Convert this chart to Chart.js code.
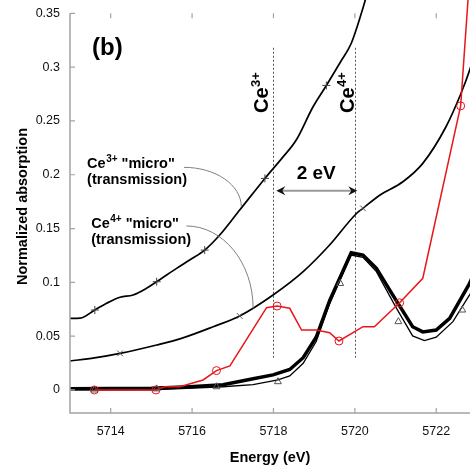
<!DOCTYPE html>
<html>
<head>
<meta charset="utf-8">
<script src="https://cdn.jsdelivr.net/npm/chart.js@4.4.1/dist/chart.umd.min.js"></script>
<style>
  html, body { margin: 0; padding: 0; background: #fff; }
  #wrap { width: 470px; height: 469px; }
</style>
</head>
<body>
<div id="wrap"><canvas id="xanes"></canvas></div>
<script>
/* global Chart */
const FONT = "'Liberation Sans', Arial, sans-serif"

// Ce3+ "micro" (transmission) spectrum, + markers at ce3Marks
const ce3Energy = [5713.0, 5713.25, 5713.61, 5713.9, 5714.23, 5714.55, 5714.88, 5715.13, 5715.62, 5715.94, 5716.31,
  5716.68, 5717.17, 5717.79, 5718.2, 5718.56, 5718.97, 5719.3, 5719.65, 5719.91, 5720.16, 5720.3]
const ce3Abs = [0.0665, 0.0668, 0.0743, 0.0806, 0.0862, 0.0883, 0.0945, 0.1006, 0.113, 0.1208, 0.130,
  0.144, 0.1672, 0.1966, 0.215, 0.2323, 0.263, 0.283, 0.305, 0.322, 0.350, 0.368]
const ce3Marks = [2, 7, 10, 13, 17]

// Ce4+ "micro" (transmission) spectrum, x markers at ce4Marks
const ce4Energy = [5713.0, 5713.6, 5714.23, 5715.13, 5715.74, 5716.52, 5717.17, 5717.99, 5718.73, 5719.38, 5720.04,
  5720.2, 5720.61, 5721.18, 5721.67, 5722.24, 5722.61, 5722.82, 5723.0]
const ce4Abs = [0.0269, 0.0298, 0.034, 0.0418, 0.048, 0.0588, 0.0688, 0.0883, 0.110, 0.1347, 0.164,
  0.1688, 0.181, 0.1935, 0.2106, 0.2446, 0.2757, 0.297, 0.32]
const ce4Marks = [2, 6, 11]

// red spectrum with open circles
const redEnergy = [5713.6, 5715.11, 5715.33, 5715.7, 5716.27, 5716.6, 5716.93, 5717.83, 5718.09, 5718.4, 5718.69,
  5719.05, 5719.38, 5719.61, 5720.2, 5720.48, 5721.1, 5721.67, 5722.6, 5722.78, 5722.9]
const redAbs = [0, 0, 0.003, 0.003, 0.0093, 0.018, 0.0223, 0.0765, 0.078, 0.0759, 0.0557,
  0.0557, 0.0532, 0.0455, 0.0588, 0.0588, 0.081, 0.1038, 0.264, 0.362, 0.428]
const redMarks = [0, 1, 5, 8, 13, 16, 18]

// pair of edge spectra (thick + thin)
const thickEnergy = [5713.0, 5715.0, 5715.94, 5716.76, 5717.5, 5717.99, 5718.4, 5718.73, 5719.05, 5719.38, 5719.91,
  5720.2, 5720.53, 5720.93, 5721.42, 5721.67, 5722.0, 5722.33, 5722.82, 5723.0]
const thickAbs = [0.0012, 0.0015, 0.003, 0.0048, 0.0105, 0.014, 0.019, 0.030, 0.049, 0.083, 0.1276,
  0.1254, 0.113, 0.0883, 0.0588, 0.054, 0.0557, 0.0666, 0.099, 0.115]
const thinEnergy = [5713.0, 5715.0, 5716.76, 5717.5, 5718.11, 5718.4, 5718.73, 5719.05, 5719.38, 5719.91,
  5720.2, 5720.53, 5721.0, 5721.42, 5721.71, 5722.0, 5722.41, 5722.82, 5723.0]
const thinAbs = [0.0, 0.0, 0.003, 0.005, 0.0093, 0.013, 0.0248, 0.045, 0.080, 0.1254,
  0.1233, 0.110, 0.0774, 0.0502, 0.0458, 0.049, 0.0635, 0.0883, 0.10]

// open triangles
const triEnergy = [5713.6, 5715.13, 5716.6, 5718.11, 5719.64, 5721.07, 5722.64]
const triAbs = [0, 0.001, 0.003, 0.0077, 0.099, 0.0635, 0.0743]

const xTicks = [5714, 5716, 5718, 5720, 5722]
const yTicks = [0, 0.05, 0.1, 0.15, 0.2, 0.25, 0.3, 0.35]
const edgeLines = [5718, 5720]

const zip = (xs, ys) => xs.map((x, i) => ({ x, y: ys[i] }))
const markAt = (marks, r) => (ctx) => (marks.includes(ctx.dataIndex) ? r : 0)

const lineSet = (label, data, colour, width, extra) => ({
  label,
  data,
  borderColor: colour,
  borderWidth: width,
  pointRadius: 0,
  fill: false,
  tension: 0,
  ...extra,
})

// fixed axis boxes, no extra room for overhanging tick labels
const fixBox = (size) => (s) => {
  if (s.isHorizontal()) s.height = size
  else s.width = size
  s.paddingTop = 0
  s.paddingBottom = 0
  s.paddingLeft = 0
  s.paddingRight = 0
}

function drawSup(ctx, x, y, base, sup, size, supSize, tail) {
  ctx.font = `bold ${size}px ${FONT}`
  ctx.fillText(base, x, y)
  let w = ctx.measureText(base).width
  ctx.font = `bold ${supSize}px ${FONT}`
  ctx.fillText(sup, x + w + 0.5, y - size * 0.4)
  w += ctx.measureText(sup).width + 0.5
  if (tail) {
    ctx.font = `bold ${size}px ${FONT}`
    ctx.fillText(tail, x + w, y)
  }
}

function arrowHead(ctx, tx, ty, dir) {
  const len = 9
  const half = 4.5
  ctx.beginPath()
  ctx.moveTo(tx, ty)
  ctx.lineTo(tx - dir * len, ty - half)
  ctx.lineTo(tx - dir * (len - 3), ty)
  ctx.lineTo(tx - dir * len, ty + half)
  ctx.closePath()
  ctx.fill()
}

function leader(ctx, s, e) {
  const k = 0.5523
  ctx.beginPath()
  ctx.moveTo(s[0], s[1])
  ctx.bezierCurveTo(s[0] + k * (e[0] - s[0]), s[1], e[0], e[1] - k * (e[1] - s[1]), e[0], e[1])
  ctx.stroke()
}

const decor = {
  id: 'decor',
  beforeDatasetsDraw(chart) {
    const { ctx, scales: { x, y } } = chart
    ctx.save()
    ctx.strokeStyle = '#555'
    ctx.lineWidth = 1
    ctx.setLineDash([2, 2])
    edgeLines.forEach((e) => {
      const px = Math.round(x.getPixelForValue(e)) + 0.5
      ctx.beginPath()
      ctx.moveTo(px, y.getPixelForValue(0.318))
      ctx.lineTo(px, y.getPixelForValue(0.028))
      ctx.stroke()
    })
    ctx.restore()
  },
  afterDatasetsDraw(chart) {
    const { ctx, chartArea, scales: { x, y } } = chart
    const P = (e, v) => [x.getPixelForValue(e), y.getPixelForValue(v)]
    ctx.save()

    // axes with inward ticks
    const left = chartArea.left
    const bottom = chartArea.bottom
    const top = y.getPixelForValue(0.35)
    ctx.strokeStyle = '#a3a3a3'
    ctx.lineWidth = 1.5
    ctx.beginPath()
    ctx.moveTo(left, top)
    ctx.lineTo(left, bottom)
    ctx.lineTo(chartArea.right, bottom)
    ctx.stroke()
    ctx.lineWidth = 1.2
    ctx.beginPath()
    yTicks.forEach((v) => {
      const py = y.getPixelForValue(v)
      ctx.moveTo(left, py)
      ctx.lineTo(left + 5, py)
    })
    xTicks.forEach((e) => {
      const px = x.getPixelForValue(e)
      ctx.moveTo(px, bottom)
      ctx.lineTo(px, bottom - 5)
      ctx.moveTo(px, top)
      ctx.lineTo(px, top + 5)
    })
    ctx.stroke()

    ctx.fillStyle = '#000'
    ctx.textBaseline = 'alphabetic'
    ctx.textAlign = 'left'

    // panel letter
    ctx.font = `bold 24px ${FONT}`
    let p = P(5713.54, 0.311)
    ctx.fillText('(b)', p[0], p[1])

    // edge labels, rotated
    ;[[5717.86, 'Ce', '3+'], [5719.97, 'Ce', '4+']].forEach(([e, base, sup]) => {
      const q = P(e, 0.2574)
      ctx.save()
      ctx.translate(q[0], q[1])
      ctx.rotate(-Math.PI / 2)
      drawSup(ctx, 0, 0, base, sup, 20, 13)
      ctx.restore()
    })

    // 2 eV separation
    ctx.font = `bold 19px ${FONT}`
    ctx.textAlign = 'center'
    p = P(5719.05, 0.1965)
    ctx.fillText('2 eV', p[0], p[1])
    const a = P(5718.07, 0.1852)
    const b = P(5720.06, 0.1852)
    ctx.strokeStyle = '#9a9a9a'
    ctx.lineWidth = 2
    ctx.beginPath()
    ctx.moveTo(a[0] + 5, a[1])
    ctx.lineTo(b[0] - 5, b[1])
    ctx.stroke()
    ctx.fillStyle = '#111'
    arrowHead(ctx, a[0], a[1], -1)
    arrowHead(ctx, b[0], b[1], 1)

    // curve labels
    ctx.fillStyle = '#000'
    ctx.textAlign = 'left'
    p = P(5713.42, 0.2063)
    drawSup(ctx, p[0], p[1], 'Ce', '3+', 14.5, 10, ' "micro"')
    p = P(5713.42, 0.1914)
    ctx.font = `bold 14.5px ${FONT}`
    ctx.fillText('(transmission)', p[0], p[1])
    p = P(5713.52, 0.1505)
    drawSup(ctx, p[0], p[1], 'Ce', '4+', 14.5, 10, ' "micro"')
    p = P(5713.52, 0.1357)
    ctx.font = `bold 14.5px ${FONT}`
    ctx.fillText('(transmission)', p[0], p[1])

    // leader arcs
    ctx.strokeStyle = '#808080'
    ctx.lineWidth = 1
    leader(ctx, P(5715.8, 0.2069), P(5717.21, 0.1703))
    leader(ctx, P(5715.86, 0.1524), P(5717.5, 0.0759))

    ctx.restore()
  },
}

const tickFont = { family: FONT, size: 12.5 }
const titleFont = { family: FONT, size: 14.5, weight: 'bold' }

new Chart(document.getElementById('xanes'), {
  type: 'line',
  data: {
    datasets: [
      {
        type: 'scatter',
        label: 'triangles',
        data: zip(triEnergy, triAbs),
        showLine: false,
        pointStyle: 'triangle',
        pointRadius: 4,
        pointBorderColor: '#555',
        pointBackgroundColor: 'rgba(0,0,0,0)',
        pointBorderWidth: 1,
      },
      lineSet('red', zip(redEnergy, redAbs), '#e8161b', 1.5, {
        pointStyle: 'circle',
        pointRadius: markAt(redMarks, 4),
        pointBorderColor: '#e8161b',
        pointBackgroundColor: 'rgba(0,0,0,0)',
        pointBorderWidth: 1,
      }),
      lineSet('Ce3+ micro', zip(ce3Energy, ce3Abs), '#000', 1.7, {
        cubicInterpolationMode: 'monotone',
        pointStyle: 'cross',
        pointRadius: markAt(ce3Marks, 4),
        pointBorderColor: '#444',
        pointBorderWidth: 1,
      }),
      lineSet('Ce4+ micro', zip(ce4Energy, ce4Abs), '#000', 1.7, {
        cubicInterpolationMode: 'monotone',
        pointStyle: 'crossRot',
        pointRadius: markAt(ce4Marks, 4),
        pointBorderColor: '#555',
        pointBorderWidth: 1,
      }),
      lineSet('thick', zip(thickEnergy, thickAbs), '#000', 3.5),
      lineSet('thin', zip(thinEnergy, thinAbs), '#000', 1.3),
    ],
  },
  options: {
    responsive: true,
    maintainAspectRatio: false,
    animation: false,
    devicePixelRatio: 1,
    events: [],
    layout: { padding: 0, autoPadding: false },
    plugins: { legend: { display: false }, tooltip: { enabled: false } },
    scales: {
      x: {
        type: 'linear',
        min: 5713,
        max: 5722.83,
        afterFit: fixBox(56),
        afterBuildTicks: (s) => { s.ticks = xTicks.map((value) => ({ value })) },
        grid: { display: false, drawTicks: false },
        border: { display: false },
        ticks: { color: '#111', font: tickFont, padding: 11, maxRotation: 0, autoSkip: false, callback: (v) => String(v) },
        title: { display: true, text: 'Energy (eV)', color: '#000', font: titleFont, padding: { top: 2, bottom: 2 } },
      },
      y: {
        min: -0.0214,
        max: 0.3624,
        afterFit: fixBox(70),
        afterBuildTicks: (s) => { s.ticks = yTicks.map((value) => ({ value })) },
        grid: { display: false, drawTicks: false },
        border: { display: false },
        ticks: { color: '#111', font: tickFont, padding: 10, autoSkip: false, callback: (v) => String(v) },
        title: { display: true, text: 'Normalized absorption', color: '#000', font: titleFont, padding: { top: 14, bottom: 0 } },
      },
    },
  },
  plugins: [decor],
})
</script>
</body>
</html>
